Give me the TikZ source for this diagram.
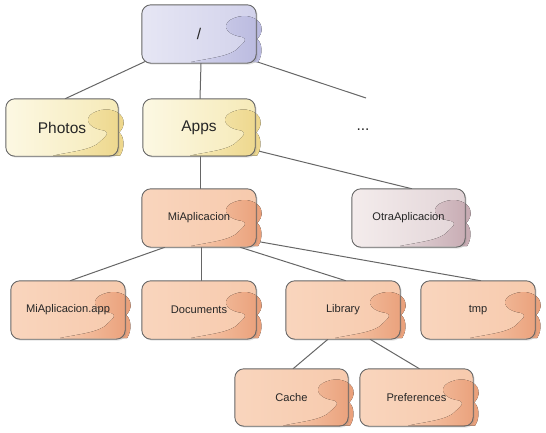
\documentclass[tikz,border=0pt]{standalone}
\usepackage{fontspec}
\setmainfont{Liberation Sans}
\usetikzlibrary{shadows}
\pgfdeclarelayer{background}
\pgfdeclarelayer{mid}
\pgfsetlayers{background,mid,main}
\definecolor{rootL}{HTML}{E6E6F4}
\definecolor{rootR}{HTML}{D2D2EB}
\definecolor{rootB}{HTML}{B9B9DF}
\definecolor{yelL}{HTML}{FCF8E3}
\definecolor{yelR}{HTML}{F6EAB8}
\definecolor{yelB}{HTML}{EDD68A}
\definecolor{orL}{HTML}{F9D5BD}
\definecolor{orR}{HTML}{F7CAAD}
\definecolor{orB}{HTML}{E99E78}
\definecolor{otL}{HTML}{F4ECEC}
\definecolor{otR}{HTML}{E2D4D7}
\definecolor{otB}{HTML}{C6A9B1}
\definecolor{edge}{HTML}{666666}
\def\blobpath{(-22,-16) .. controls (-10,-21) and (3,-16) .. (5,-8) .. controls (7,-2) and (3,3) .. (1,5) .. controls (6,9) and (7,20) .. (2,28) -- (-65,28) .. controls (-45,24) and (-25,22) .. (-18,14) .. controls (-12,8) and (-8,6) .. (-14,3) .. controls (-34,0) and (-34,-12) .. cycle}
\tikzset{
  box/.style={inner sep=0pt, minimum width=112pt, minimum height=57pt, text=black!85},
  big/.style={box, font=\fontsize{15.5}{18}\selectfont},
  small/.style={box, font=\fontsize{11.1}{13}\selectfont},
  boxshape/.style={rounded corners=9pt},
  link/.style={draw=edge, line width=1pt}
}
\begin{document}
\begin{tikzpicture}[x=1pt, y=-1pt]
\useasboundingbox (0,0) rectangle (546,432);
\node[big, minimum width=114pt, minimum height=58pt] (root) at (199,34) {/};
\node[big] (photos) at (62,127.5) {Photos};
\node[big] (apps) at (199,127.5) {Apps};
\node[font=\fontsize{15.5}{18}\selectfont, text=black!85] (dots) at (363,130) {...};
\coordinate (etc) at (366,98);
\node[small, minimum width=114pt, minimum height=58pt] (mi) at (199,218) {MiAplicacion};
\node[small, minimum width=113pt, minimum height=58pt] (otra) at (408.5,218) {OtraAplicacion};
\node[small, minimum width=114pt, minimum height=58pt] (miapp) at (68,310) {MiAplicacion.app};
\node[small, minimum width=114pt, minimum height=58pt] (docs) at (199,310) {Documents};
\node[small, minimum width=114pt, minimum height=58pt] (lib) at (343,310) {Library};
\node[small, minimum width=114pt, minimum height=58pt] (tmp) at (478,310) {tmp};
\node[small, minimum width=113pt] (cache) at (291.5,397.5) {Cache};
\node[small, minimum width=113pt] (pref) at (416.5,397.5) {Preferences};
\begin{pgfonlayer}{background}
\path[link] ([xshift=4pt,yshift=2pt]root.south west) -- ([xshift=3pt]photos.north);
\path[link] ([xshift=2pt]root.south) -- ([xshift=1pt]apps.north);
\path[link] ([xshift=-1pt,yshift=2pt]root.south east) -- (etc);
\path[link] ([yshift=6pt]apps.south east) -- ([xshift=3.5pt]otra.north);
\path[link] ([xshift=1pt]apps.south) -- ([xshift=1pt]mi.north);
\path[link] ([xshift=-34pt]mi.south) -- ([xshift=2pt]miapp.north);
\path[link] ([xshift=2pt]mi.south) -- ([xshift=2pt]docs.north);
\path[link] ([xshift=41pt]mi.south) -- ([xshift=3pt]lib.north);
\path[link] ([yshift=6pt]mi.south east) -- ([xshift=3pt]tmp.north);
\path[link] ([xshift=-15pt]lib.south) -- ([xshift=1.5pt]cache.north);
\path[link] ([xshift=27pt]lib.south) -- ([xshift=3pt]pref.north);
\end{pgfonlayer}
\begin{pgfonlayer}{mid}
\foreach \n/\l/\r/\b in {root/rootL/rootR/rootB, photos/yelL/yelR/yelB, apps/yelL/yelR/yelB,
    mi/orL/orR/orB, otra/otL/otR/otB, miapp/orL/orR/orB, docs/orL/orR/orB,
    lib/orL/orR/orB, tmp/orL/orR/orB, cache/orL/orR/orB, pref/orL/orR/orB}{
  \fill[shift={(\n.east)}, left color=\r, middle color=\r!65!\b, right color=\b] \blobpath;
  \path[boxshape, left color=\l, right color=\r,
    drop shadow={shadow xshift=1.5pt, shadow yshift=-1.5pt, opacity=0.22}]
    (\n.north west) rectangle (\n.south east);
  \begin{scope}
    \clip[boxshape] (\n.north west) rectangle (\n.south east);
    \fill[shift={(\n.east)}, left color=\r, middle color=\r!65!\b, right color=\b] \blobpath;
  \end{scope}
  \draw[boxshape, edge, line width=0.9pt] (\n.north west) rectangle (\n.south east);
}
\end{pgfonlayer}
\end{tikzpicture}
\end{document}
